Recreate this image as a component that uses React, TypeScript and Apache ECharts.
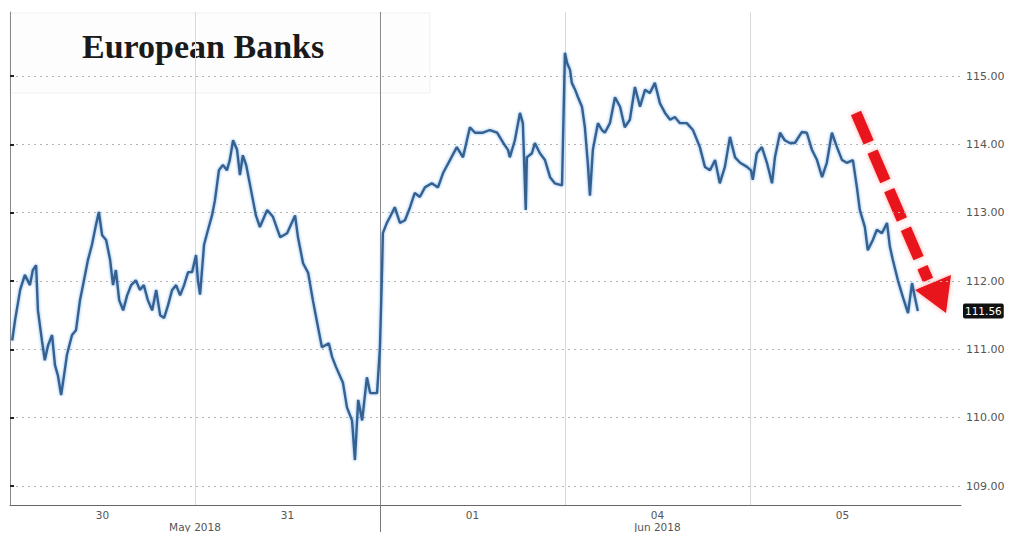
import React, { useEffect, useRef } from 'react';
import * as echarts from 'echarts';

// minutes of one trading session (08:00-16:30)
const SESSION_MINUTES = 510;
const dayLabels = ['30', '31', '01', '04', '05'];
const monthLabels = ['May 2018', 'Jun 2018'];
const monthLabelAt = [510, 1785];
const monthBoundary = [1020];
const dayBoundaries = [510, 1020, 1530, 2040];
const yTicks = [109, 110, 111, 112, 113, 114, 115];
const lastPrice = 111.56;

// [minutes since session open, price]
const day30: [number, number][] = [
  [6, 111.13], [14, 111.43], [28, 111.87], [41, 112.09], [55, 111.94], [63, 112.16], [72, 112.23],
  [77, 111.57], [88, 111.13], [96, 110.84], [105, 111.06], [116, 111.21], [124, 110.77], [132, 110.62],
  [141, 110.33], [149, 110.62], [157, 110.92], [171, 111.21], [182, 111.28], [193, 111.72], [204, 112.01],
  [215, 112.31], [226, 112.53], [237, 112.82], [245, 113.01], [254, 112.67], [265, 112.6], [276, 112.31],
  [284, 111.94], [292, 112.16], [301, 111.72], [312, 111.57], [323, 111.79], [334, 111.94], [347, 112.01],
  [358, 111.87], [369, 111.94], [380, 111.72], [392, 111.57], [403, 111.87], [414, 111.5], [425, 111.46],
  [436, 111.65], [447, 111.87], [458, 111.94], [469, 111.79], [480, 111.94], [491, 112.13], [502, 112.13],
];
const day31: [number, number][] = [
  [3, 112.38], [8, 112.01], [14, 111.8], [25, 112.53], [36, 112.75], [47, 112.96], [55, 113.18],
  [66, 113.62], [77, 113.7], [88, 113.62], [96, 113.77], [105, 114.06], [116, 113.92], [124, 113.55],
  [132, 113.84], [141, 113.7], [152, 113.4], [160, 113.18], [168, 112.96], [179, 112.79], [199, 113.04],
  [215, 112.94], [235, 112.64], [254, 112.7], [276, 112.96], [284, 112.64], [298, 112.26], [312, 112.12],
  [325, 111.72], [339, 111.33], [350, 111.03], [369, 111.09], [378, 110.89], [389, 110.74], [408, 110.51],
  [419, 110.15], [433, 109.96], [441, 109.38], [450, 110.26], [461, 109.96], [474, 110.59], [483, 110.36],
  [502, 110.36],
];
const day01: [number, number][] = [
  [0, 111.03], [6, 112.2], [8, 112.7], [19, 112.85], [28, 112.94], [41, 113.08], [55, 112.85],
  [69, 112.89], [83, 113.08], [96, 113.29], [110, 113.23], [124, 113.37], [143, 113.43], [160, 113.37],
  [174, 113.58], [193, 113.77], [212, 113.96], [229, 113.81], [248, 114.25], [262, 114.17], [284, 114.17],
  [303, 114.21], [323, 114.17], [340, 114.02], [353, 113.92], [358, 113.81], [372, 114.06], [386, 114.46],
  [394, 114.31], [402, 113.04], [405, 113.81], [419, 113.87], [427, 114.02], [441, 113.87], [455, 113.77],
  [469, 113.52], [482, 113.43], [502, 113.4],
];
const day04: [number, number][] = [
  [0, 115.34], [6, 115.19], [14, 115.09], [19, 114.9], [28, 114.8], [36, 114.69], [47, 114.55],
  [55, 114.25], [63, 113.73], [69, 113.25], [77, 113.92], [91, 114.31], [102, 114.21], [110, 114.17],
  [124, 114.31], [138, 114.69], [152, 114.55], [165, 114.25], [179, 114.36], [193, 114.84], [207, 114.55],
  [221, 114.8], [234, 114.75], [248, 114.9], [262, 114.6], [276, 114.46], [290, 114.36], [303, 114.4],
  [317, 114.31], [336, 114.31], [353, 114.21], [372, 113.96], [386, 113.67], [400, 113.62], [414, 113.77],
  [427, 113.43], [441, 113.67], [455, 114.11], [469, 113.81], [483, 113.73], [502, 113.67],
];
const day05: [number, number][] = [
  [3, 113.62], [8, 113.48], [19, 113.87], [33, 113.96], [47, 113.73], [61, 113.43], [69, 113.81],
  [83, 114.17], [96, 114.06], [110, 114.02], [124, 114.02], [143, 114.18], [157, 114.17], [171, 113.92],
  [185, 113.77], [199, 113.52], [212, 113.73], [226, 114.17], [240, 113.96], [254, 113.77], [267, 113.73],
  [284, 113.77], [295, 113.37], [303, 113.04], [317, 112.79], [325, 112.45], [339, 112.6], [350, 112.75],
  [364, 112.7], [378, 112.85], [386, 112.5], [394, 112.31], [408, 112.01], [422, 111.76], [436, 111.53],
  [447, 111.97], [455, 111.76], [463, 111.56],
];
const sessions = [day30, day31, day01, day04, day05];

const AXIS_FONT = 'DejaVu Sans';

export default function App() {
  const ref = useRef<HTMLDivElement>(null);
  useEffect(() => {
    if (!ref.current) return;
    const chart = echarts.init(ref.current, undefined, { renderer: 'svg' });
    const data: [number, number][] = [];
    sessions.forEach((s, i) => s.forEach(([m, v]) => data.push([i * SESSION_MINUTES + m, v])));
    const dayCenters = dayLabels.map((_, i) => i * SESSION_MINUTES + SESSION_MINUTES / 2);

    chart.setOption({
      animation: false,
      backgroundColor: '#ffffff',
      grid: { left: 10, right: 52, top: 12, bottom: 35 },
      xAxis: [
        {
          type: 'value',
          min: 0,
          max: 2622,
          axisLine: { show: true, lineStyle: { color: '#666', width: 1 } },
          axisTick: { show: false, customValues: dayBoundaries },
          splitLine: { show: true, lineStyle: { color: '#d9d9d9', width: 1 } },
          axisLabel: {
            customValues: dayCenters,
            formatter: (v: number) => dayLabels[Math.floor(v / SESSION_MINUTES)] ?? '',
            color: '#555',
            fontFamily: AXIS_FONT,
            fontSize: 10.5,
            margin: 4,
          },
        },
        {
          type: 'value',
          min: 0,
          max: 2622,
          position: 'bottom',
          axisLine: { show: false },
          axisTick: { show: true, customValues: monthBoundary, length: 35, lineStyle: { color: '#777', width: 1 } },
          splitLine: { show: true, lineStyle: { color: '#8a8a8a', width: 1 } },
          axisLabel: {
            customValues: monthLabelAt,
            formatter: (v: number) => monthLabels[monthLabelAt.indexOf(v)] ?? '',
            color: '#555',
            fontFamily: AXIS_FONT,
            fontSize: 10.5,
            margin: 16,
          },
        },
      ],
      yAxis: {
        type: 'value',
        position: 'right',
        min: 108.722,
        max: 115.937,
        axisLine: { show: true, lineStyle: { color: '#888', width: 1 } },
        axisTick: { show: true, customValues: yTicks, length: 4, lineStyle: { color: '#222', width: 2 } },
        splitLine: { show: true, lineStyle: { color: '#b5b5b5', width: 1, type: [2, 4] } },
        axisLabel: {
          customValues: yTicks,
          formatter: (v: number) => v.toFixed(2),
          color: '#555',
          fontFamily: AXIS_FONT,
          fontSize: 11,
          margin: 5,
        },
      },
      series: [
        {
          type: 'line',
          data,
          showSymbol: false,
          symbol: 'none',
          lineStyle: {
            color: '#36608f',
            width: 2.4,
            shadowColor: 'rgba(90,160,230,0.8)',
            shadowBlur: 3,
          },
          markLine: {
            silent: true,
            symbol: ['none', 'none'],
            lineStyle: { color: 'rgba(0,0,0,0)', width: 1, type: 'solid' },
            data: [{ yAxis: lastPrice }],
            label: {
              show: true,
              position: 'end',
              distance: 2,
              formatter: () => lastPrice.toFixed(2),
              color: '#fff',
              backgroundColor: '#111',
              padding: [2, 2, 2, 2],
              borderRadius: 2,
              fontFamily: AXIS_FONT,
              fontSize: 10.5,
            },
          },
        },
      ],
      graphic: [
        {
          type: 'rect',
          z: -1,
          shape: { x: 10, y: 13, width: 420, height: 80 },
          style: { fill: 'rgba(248,248,248,0.35)', stroke: '#f0f0f0', lineWidth: 1 },
        },
        {
          type: 'text',
          x: 82,
          y: 46,
          style: {
            text: 'European Banks',
            font: 'bold 34px "Liberation Serif", serif',
            fill: '#1a1a1a',
            verticalAlign: 'middle',
            align: 'left',
          },
        },
        {
          type: 'line',
          shape: { x1: 856, y1: 113, x2: 928, y2: 280 },
          style: {
            stroke: '#e8141c',
            lineWidth: 11,
            lineDash: [32, 10],
            shadowColor: 'rgba(255,60,60,0.5)',
            shadowBlur: 4,
          },
        },
        {
          type: 'polygon',
          shape: { points: [[915, 290], [951, 275], [946, 313]] },
          style: { fill: '#e8141c', shadowColor: 'rgba(255,60,60,0.5)', shadowBlur: 4 },
        },
      ],
    });
    return () => chart.dispose();
  }, []);
  return <div ref={ref} style={{ width: 1013, height: 540, margin: -8 }} />;
}
